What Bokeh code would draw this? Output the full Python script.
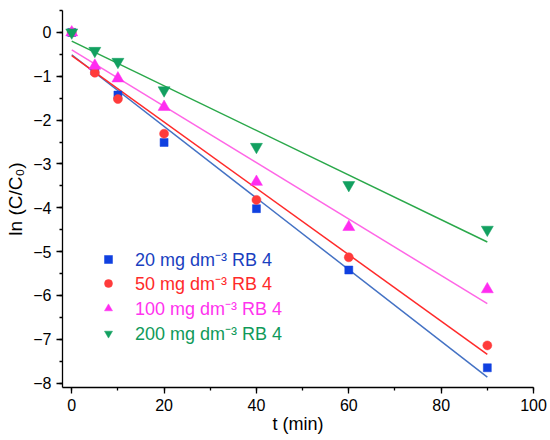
import numpy as np
from bokeh.plotting import figure
from bokeh.models import (Range1d, SingleIntervalTicker, Legend, LegendItem,
                          ColumnDataSource)
from bokeh.embed import file_html
from bokeh.resources import INLINE

# ---- data ----
t = [0, 5, 10, 20, 40, 60, 90]
s20 = [0, -0.88, -1.43, -2.51, -4.02, -5.42, -7.65]
s50 = [0, -0.92, -1.52, -2.31, -3.82, -5.13, -7.14]
s100 = [0, -0.76, -1.05, -1.70, -3.41, -4.44, -5.86]
s200 = [0, -0.42, -0.67, -1.32, -2.61, -3.48, -4.50]

fit_t = [0, 90]
fit_intercept = [-0.51, -0.53, -0.40, -0.20]
fit_slope = [-0.0817, -0.0757, -0.0643, -0.0509]

labels = ["20 mg dm\u207b\u00b3 RB 4", "50 mg dm\u207b\u00b3 RB 4",
          "100 mg dm\u207b\u00b3 RB 4", "200 mg dm\u207b\u00b3 RB 4"]
x_title = "t (min)"
y_title = "ln (C/C\u2080)"
x_ticks_interval = 20
y_ticks_interval = 1

FONT = "Liberation Sans"

p = figure(width=550, height=440, output_backend="svg", toolbar_location=None,
           x_range=Range1d(-2, 100), y_range=Range1d(-8.1, 0.5),
           min_border_left=62, min_border_right=17, min_border_top=10, min_border_bottom=53)
p.outline_line_color = None
p.xgrid.visible = False
p.ygrid.visible = False
p.background_fill_color = "white"
p.border_fill_color = "white"

for ax in (p.xaxis[0], p.yaxis[0]):
    ax.axis_line_color = "black"
    ax.axis_line_width = 1.3
    ax.major_tick_line_color = "black"
    ax.minor_tick_line_color = "black"
    ax.major_tick_line_width = 1.3
    ax.minor_tick_line_width = 1.3
    ax.major_tick_out = 6
    ax.major_tick_in = 0
    ax.minor_tick_out = 3
    ax.minor_tick_in = 0
    ax.major_label_text_font = FONT
    ax.major_label_text_font_size = "16px"
    ax.major_label_text_color = "black"
    ax.major_label_standoff = 5
    ax.axis_label_text_font = FONT
    ax.axis_label_text_font_style = "normal"
    ax.axis_label_text_color = "black"

p.xaxis[0].axis_label = x_title
p.xaxis[0].axis_label_text_font_size = "18px"
p.xaxis[0].axis_label_standoff = 0
p.yaxis[0].axis_label = y_title
p.yaxis[0].axis_label_text_font_size = "19px"
p.yaxis[0].axis_label_standoff = 4

p.xaxis[0].ticker = SingleIntervalTicker(interval=x_ticks_interval, num_minor_ticks=2)
p.yaxis[0].ticker = SingleIntervalTicker(interval=y_ticks_interval, num_minor_ticks=2)

series = [s20, s50, s100, s200]
markers = ["square", "circle", "triangle", "inverted_triangle"]
sizes = [8, 9, 12, 12]
mcolors = ["#1040e0", "#ff3b3b", "#ff2cf0", "#12a060"]
lcolors = ["#4472c4", "#ff2a2a", "#ff66e6", "#2aa84a"]
tcolors = ["#1a3fbf", "#ff2a2a", "#ff33ee", "#109a5a"]

# fit lines
for b, m, lc in zip(fit_intercept, fit_slope, lcolors):
    ft = np.array(fit_t, dtype=float)
    p.line(ft, b + m * ft, line_color=lc, line_width=1.5)

renderers = []
for ys, mk, sz, mc in zip(series, markers, sizes, mcolors):
    src = ColumnDataSource(dict(t=t, y=ys))
    r = p.scatter("t", "y", source=src, marker=mk, size=sz,
                  fill_color=mc, line_color=mc, line_width=0.5)
    renderers.append(r)

# legends (one per entry so each text gets its own colour)
legend_y = [116, 92, 67, 42]
for r, lab, tc, ly in zip(renderers, labels, tcolors, legend_y):
    lg = Legend(items=[LegendItem(label=lab, renderers=[r])], location=(36, ly),
                padding=0, margin=0, spacing=0, glyph_width=20, glyph_height=20,
                label_height=20, label_standoff=17, label_text_font=FONT,
                label_text_font_size="18px", label_text_color=tc,
                background_fill_alpha=0, border_line_alpha=0)
    p.add_layout(lg, "center")

open("out.html", "w").write(file_html(p, INLINE))
